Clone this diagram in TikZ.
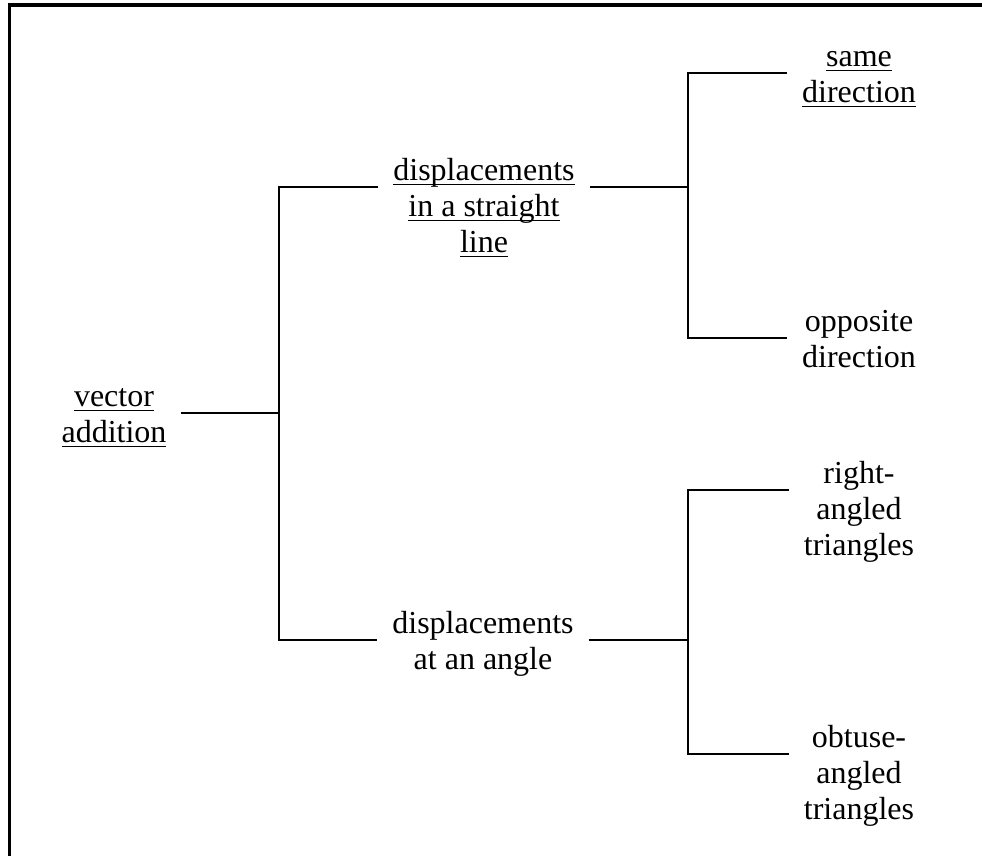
\documentclass[tikz,border=0pt]{standalone}
\usepackage{fontspec}
\setmainfont{Liberation Serif}
\newsavebox{\ulbox}
\newcommand{\uln}[1]{\sbox{\ulbox}{#1}\rlap{\vrule width\wd\ulbox height -2.3pt depth 3.6pt}\usebox{\ulbox}}
\tikzset{
  leaf/.style={align=center, inner xsep=11pt, inner ysep=0pt, anchor=north, yshift=24pt,
    font=\fontsize{24}{27}\selectfont},
  link/.style={line width=1.5pt},
}
\begin{document}
\begin{tikzpicture}[x=0.75pt,y=-0.75pt]
  \useasboundingbox (0,0) rectangle (982,856);
  \draw [line width=2.3pt] (9.5,856) -- (9.5,5) -- (982,5);

  \node[leaf] (root) at (114,413) {\strut\uln{vector}\\\uln{addition}};
  \node[leaf] (line) at (484,187) {\strut\uln{displacements}\\\uln{in a straight}\\\uln{line}};
  \node[leaf] (angle) at (483,640) {\strut displacements\\at an angle};
  \node[leaf] (same) at (859,73) {\strut\uln{same}\\\uln{direction}};
  \node[leaf] (opp) at (859,338) {\strut opposite\\direction};
  \node[leaf] (right) at (859,490) {\strut right-\\angled\\triangles};
  \node[leaf] (obtuse) at (859,754) {\strut obtuse-\\angled\\triangles};

  \coordinate (j0) at (279,413);
  \coordinate (j1) at (688,187);
  \coordinate (j2) at (688,640);

  \draw[link] ([yshift=-24pt]root.north east) -- (j0);
  \draw[link] ([yshift=-24pt]line.north west) -| (j0) |- ([yshift=-24pt]angle.north west);
  \draw[link] ([yshift=-24pt]line.north east) -- (j1);
  \draw[link] ([yshift=-24pt]same.north west) -| (j1) |- ([yshift=-24pt]opp.north west);
  \draw[link] ([yshift=-24pt]angle.north east) -- (j2);
  \draw[link] ([yshift=-24pt]right.north west) -| (j2) |- ([yshift=-24pt]obtuse.north west);
\end{tikzpicture}
\end{document}
